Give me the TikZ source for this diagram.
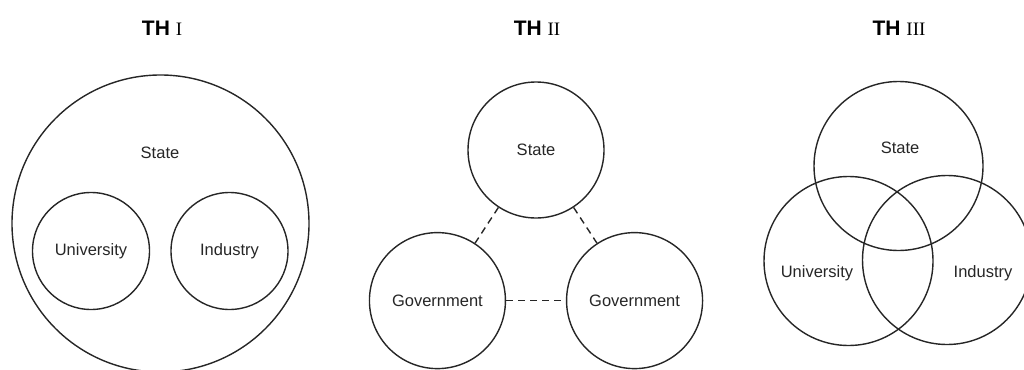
\documentclass[tikz,border=0pt]{standalone}
\usepackage{fontspec}
\setmainfont{Liberation Sans}
\newfontfamily\romanfont{Liberation Serif}

\begin{document}
\begin{tikzpicture}[
    x=1pt, y=-1pt,
    ring/.style={%
      draw=black!85,
      circle,
      line width=1.4pt,
      inner sep=0pt,
    },
    ringtext/.style={%
      text=black!85,
      font=\fontsize{16.5}{19}\selectfont,
    },
    heading/.style={%
      font=\fontsize{21}{24}\selectfont,
    },
    tie/.style={%
      draw=black!85,
      line width=1.4pt,
      dash pattern=on 7pt off 5pt,
    },
  ]
    \useasboundingbox (0,0) rectangle (1024,369);
    % TH I
    \node [heading] (titleI) at (162,28) {\textbf{TH} {\romanfont\fontsize{19}{20}\selectfont I}};
    \node [ring, minimum size=297pt] (stateI) at (160.5,223.5) {};
    \node [ringtext] (stateIname) at (160,153) {State};
    \node [ring, ringtext, minimum size=117pt] (univI) at (91,251) {University};
    \node [ring, ringtext, minimum size=117pt] (indI) at (229.5,251) {Industry};
    % TH II
    \node [heading] (titleII) at (537,28) {\textbf{TH} {\romanfont\fontsize{19}{20}\selectfont II}};
    \node [ring, ringtext, minimum size=136pt] (stateII) at (536,150) {State};
    \path (stateII) ++(-123.2:180pt) node [ring, ringtext, minimum size=136pt] (govL) {Government};
    \path (stateII) ++(-56.8:180pt) node [ring, ringtext, minimum size=136pt] (govR) {Government};
    \draw [tie] (stateII) -- (govL);
    \draw [tie] (stateII) -- (govR);
    \draw [tie] (govL) -- (govR);
    % TH III
    \node [heading] (titleIII) at (899,28) {\textbf{TH} {\romanfont\fontsize{19}{20}\selectfont III}};
    \node [ring, minimum size=169pt] (stateIII) at (898.5,166) {};
    \node [ring, minimum size=169pt] (univIII) at (848.5,261) {};
    \node [ring, minimum size=169pt] (indIII) at (947,260) {};
    \node [ringtext] (stateIIIname) at (900,148) {State};
    \node [ringtext] (univIIIname) at (817,273) {University};
    \node [ringtext] (indIIIname) at (983,273) {Industry};
\end{tikzpicture}
\end{document}
